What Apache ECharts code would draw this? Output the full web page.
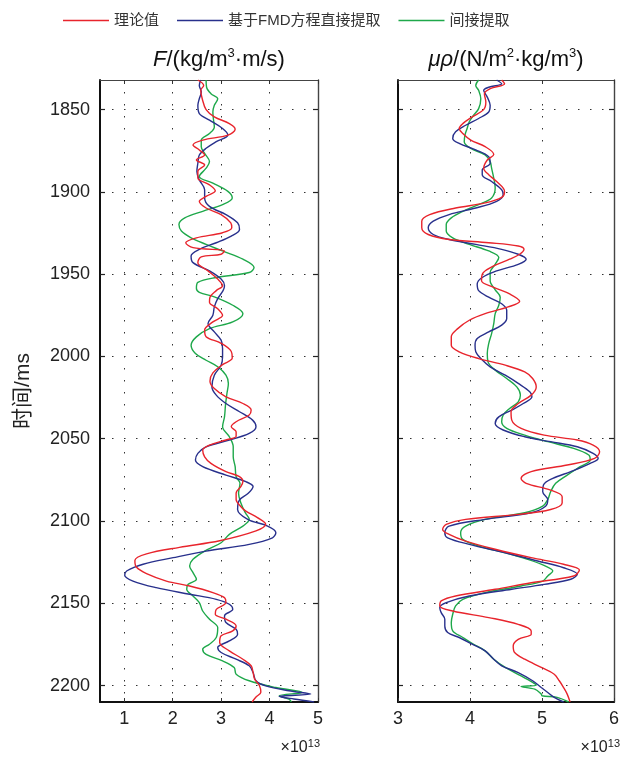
<!DOCTYPE html>
<html><head><meta charset="utf-8">
<script src="https://cdn.jsdelivr.net/npm/echarts@6/dist/echarts.min.js"></script>
<style>html,body{margin:0;padding:0;background:#fff}#c{width:622px;height:757px}</style>
</head><body><div id="c"></div>
<script>
const seriesNames = ['理论值', '基于FMD方程直接提取', '间接提取'];
const seriesColors = ['#e8242c', '#28308c', '#1ea84a'];
const timeTicks = [1850, 1900, 1950, 2000, 2050, 2100, 2150, 2200];
const fTicks = [1, 2, 3, 4, 5];
const muTicks = [3, 4, 5, 6];
const timeRange = [1832, 2210];
const fRange = [0.5, 5];
const muRange = [3, 6];
const leftTitle = '{i|F}/(kg/m{s|3}·m/s)';
const rightTitle = '{i|μρ}/(N/m{s|2}·kg/m{s|3})';
const yName = '时间/ms';
const scaleLabel = '×10{s|13}';

// [value (×10^13), time (ms)]
const F_theory = [[2.52,1832],[2.64,1835.3],[2.58,1838.3],[2.61,1843.4],[2.69,1850],[2.86,1854.4],[3.17,1858.5],[3.29,1861.9],[3.14,1865.5],[2.62,1868.5],[2.42,1871.5],[2.55,1874.5],[2.66,1877.6],[2.49,1880.6],[2.66,1883.6],[2.52,1887.6],[2.52,1891.6],[2.76,1895.7],[2.88,1899.3],[2.69,1902.7],[2.55,1905.7],[2.69,1909.8],[3.0,1913.8],[3.2,1918.8],[3.22,1921.8],[3.03,1924.8],[2.49,1927.9],[2.27,1930.9],[2.42,1933.9],[3.07,1935.9],[3.0,1937.9],[2.59,1939.5],[2.52,1943],[2.73,1948],[2.93,1953],[3.03,1957],[2.9,1960],[2.77,1964],[2.76,1967],[2.93,1971],[3.03,1975],[2.83,1979],[2.66,1984],[2.69,1988],[3.0,1992],[3.21,1997],[3.23,2001],[3.03,2005],[2.83,2010],[2.77,2015],[2.86,2019.5],[3.1,2024.5],[3.45,2028.6],[3.62,2032.6],[3.58,2035.6],[3.31,2039.7],[3.21,2042.7],[3.31,2045.8],[3.31,2048.5],[3.1,2050.8],[2.76,2053.9],[2.62,2056.9],[2.66,2061],[2.79,2065],[3.1,2070],[3.38,2073],[3.45,2076],[3.41,2079],[3.31,2083],[3.31,2087],[3.4,2091],[3.51,2094],[3.75,2098],[3.92,2102],[3.72,2106],[2.97,2112],[2.14,2116],[1.46,2120],[1.22,2124],[1.25,2128],[1.46,2132],[1.87,2136.5],[2.35,2139.5],[2.83,2143.5],[3.07,2146.6],[3.1,2149.6],[2.9,2153.7],[2.88,2156.7],[3.1,2159.7],[3.31,2163.8],[3.24,2166.8],[3.0,2169.8],[2.97,2173.9],[3.17,2178.9],[3.45,2184],[3.62,2188],[3.66,2192],[3.69,2196],[3.79,2200],[3.82,2204],[3.72,2207],[3.64,2210]];
const F_direct = [[2.58,1832],[2.55,1835.3],[2.59,1839.3],[2.55,1843.4],[2.52,1847.4],[2.55,1852.4],[2.76,1856.4],[3.03,1861.5],[3.14,1865.5],[2.9,1869.5],[2.69,1873.5],[2.55,1877.6],[2.52,1882.6],[2.5,1887.6],[2.55,1892.7],[2.66,1898.7],[2.66,1903.7],[2.76,1908.8],[3.1,1913.8],[3.34,1918.8],[3.38,1922.8],[3.21,1926.9],[2.9,1930.9],[2.55,1934.9],[2.38,1938.9],[2.42,1943],[2.76,1948],[3.0,1953],[3.07,1957],[3.04,1960],[2.93,1964.9],[2.86,1969.9],[2.83,1975],[2.73,1980],[2.86,1985.1],[3.0,1990.1],[3.03,1995.2],[3.03,2000.2],[3.0,2005.3],[2.86,2011.4],[2.81,2018.5],[2.9,2023.5],[3.1,2028.6],[3.38,2033.6],[3.65,2038.7],[3.72,2042.7],[3.58,2046.8],[3.17,2050.8],[2.69,2054.9],[2.52,2058.9],[2.47,2063],[2.62,2067],[3.1,2072.1],[3.51,2076.1],[3.66,2079.1],[3.56,2083.2],[3.38,2087.2],[3.34,2093],[3.55,2099],[3.96,2103.1],[4.13,2107.1],[4.06,2110.2],[3.58,2114.2],[2.69,2118.3],[2.01,2122.3],[1.39,2126.3],[1.05,2130.4],[1.01,2133],[1.18,2136.5],[1.66,2140.5],[2.35,2144.5],[2.9,2147.6],[3.17,2150.6],[3.24,2153.7],[3.07,2157.7],[3.1,2161.7],[3.31,2165.8],[3.34,2168.8],[3.17,2172.9],[2.93,2176.9],[3.0,2179.9],[3.31,2184],[3.58,2188],[3.66,2192.1],[3.72,2197.1],[3.92,2200.2],[4.4,2203.2],[4.85,2205.2],[4.2,2206.6],[4.5,2208.2],[4.92,2210]];
const F_indirect = [[2.69,1832],[2.7,1836.4],[2.79,1840.3],[2.93,1843.4],[2.86,1847.4],[2.83,1851.4],[2.84,1855.4],[2.86,1860.5],[2.76,1864.5],[2.59,1868.5],[2.59,1872.5],[2.66,1876.6],[2.76,1881.6],[2.69,1885.6],[2.55,1890.6],[2.83,1894.7],[3.14,1899.7],[3.23,1903.7],[3.03,1907.7],[2.62,1911.8],[2.25,1915.8],[2.13,1919.8],[2.18,1923.8],[2.38,1927.9],[2.69,1931.9],[3.03,1935.9],[3.45,1940.9],[3.68,1946],[3.58,1949],[2.9,1952],[2.52,1955],[2.49,1958.5],[2.55,1961],[2.86,1963.8],[3.24,1968.9],[3.45,1974],[3.24,1979],[2.76,1983.1],[2.49,1988.1],[2.38,1993.2],[2.47,1998.2],[2.69,2002.3],[2.93,2006.3],[3.1,2011.4],[3.15,2016.4],[3.12,2022.5],[3.09,2029.6],[3.07,2036.7],[3.03,2042.7],[3.17,2048.8],[3.25,2054.9],[3.25,2061],[3.29,2067],[3.31,2073.1],[3.39,2077.1],[3.36,2083.2],[3.41,2089.2],[3.5,2095],[3.58,2099],[3.45,2103.1],[3.17,2108.1],[3.0,2113.2],[2.66,2118.3],[2.42,2123.3],[2.35,2127.4],[2.42,2131.4],[2.49,2135.4],[2.32,2138.5],[2.29,2141.5],[2.42,2145.6],[2.55,2149.6],[2.62,2154.7],[2.76,2159.7],[2.93,2164.8],[2.9,2170.8],[2.76,2174.9],[2.62,2177.9],[2.69,2181],[3.03,2185],[3.27,2189.1],[3.31,2193.1],[3.58,2197.1],[4.13,2201.2],[4.68,2204.2],[4.2,2206.2],[4.4,2208.3],[4.45,2210]];

const M_theory = [[4.44,1832],[4.48,1834.3],[4.28,1837.3],[4.2,1840.3],[4.22,1845.4],[4.19,1850],[4.03,1854.4],[3.9,1858.5],[3.85,1861.5],[3.9,1864.5],[4.01,1868.5],[4.21,1872.5],[4.33,1877.2],[4.24,1880.6],[4.19,1885.6],[4.26,1889.6],[4.37,1893.7],[4.48,1899.7],[4.44,1903.3],[4.21,1906.7],[3.8,1909.8],[3.44,1913.8],[3.33,1917.8],[3.33,1921.8],[3.42,1925.9],[3.71,1928.9],[4.26,1930.9],[4.67,1932.9],[4.75,1934.9],[4.69,1937.9],[4.55,1940.9],[4.33,1945],[4.17,1950],[4.16,1954],[4.33,1958],[4.55,1962],[4.69,1966.5],[4.53,1969.9],[4.21,1974],[3.99,1978],[3.83,1983.1],[3.74,1988.1],[3.74,1993.2],[3.85,1997.2],[4.12,2001.3],[4.49,2005.3],[4.76,2009.4],[4.87,2013.4],[4.92,2018.5],[4.85,2023.5],[4.67,2028.6],[4.57,2033.6],[4.58,2038.7],[4.71,2043.7],[5.03,2047.8],[5.49,2050.8],[5.71,2053.9],[5.8,2057.9],[5.73,2061.9],[5.35,2066],[4.85,2070],[4.71,2074.1],[4.78,2077.1],[5.12,2081.2],[5.28,2085.2],[5.28,2089],[5.12,2093],[4.67,2096],[3.94,2099],[3.67,2102.1],[3.62,2105.1],[3.71,2108.1],[3.94,2112.2],[4.35,2117.2],[4.85,2122.3],[5.3,2126.3],[5.52,2129.8],[5.44,2133.4],[4.85,2137.5],[4.35,2141.5],[3.8,2145.6],[3.6,2148.6],[3.58,2151.6],[3.76,2154.7],[4.26,2158.7],[4.67,2162.8],[4.85,2166.8],[4.85,2168.8],[4.67,2171.9],[4.6,2175.9],[4.62,2179.9],[4.76,2184],[4.99,2189],[5.17,2193.1],[5.24,2197.1],[5.3,2201.2],[5.35,2205.2],[5.39,2210]];
const M_direct = [[4.37,1832],[4.44,1834.3],[4.26,1836.4],[4.19,1838.3],[4.24,1842.4],[4.28,1847.4],[4.26,1851.4],[4.12,1855.4],[3.94,1859.5],[3.8,1863.5],[3.76,1867.5],[3.85,1870.5],[4.08,1874.5],[4.26,1878.6],[4.28,1882.6],[4.17,1886.6],[4.17,1889.6],[4.3,1893.7],[4.44,1898.7],[4.46,1901.7],[4.37,1905.7],[4.08,1909.8],[3.71,1913.8],[3.49,1917.8],[3.42,1921.8],[3.49,1925.9],[3.71,1928.9],[4.08,1931.9],[4.44,1934.9],[4.67,1937.9],[4.78,1940.9],[4.67,1944],[4.37,1948],[4.17,1952],[4.1,1956],[4.12,1960],[4.26,1964],[4.44,1968],[4.51,1972],[4.51,1977],[4.44,1981],[4.26,1985.1],[4.1,1989.1],[4.07,1993.2],[4.08,1997.2],[4.15,2001.3],[4.28,2006.3],[4.49,2011.4],[4.67,2016.4],[4.83,2021.5],[4.86,2024.5],[4.74,2028.6],[4.58,2032.6],[4.4,2036.7],[4.35,2040.7],[4.46,2044.7],[4.76,2048.8],[5.12,2051.8],[5.49,2054.9],[5.71,2058.9],[5.78,2062],[5.67,2065],[5.4,2070],[5.15,2074.1],[5.02,2078.1],[5.01,2082.2],[5.08,2087],[5.05,2091],[4.85,2095],[4.21,2099],[3.71,2103.1],[3.65,2107.1],[3.69,2110.2],[3.99,2114.2],[4.49,2119.3],[4.94,2124.3],[5.3,2128.4],[5.49,2132.4],[5.4,2135.4],[5.03,2138.5],[4.58,2141.5],[3.99,2145.6],[3.67,2149.6],[3.58,2152.6],[3.6,2155.7],[3.65,2159.7],[3.65,2163.8],[3.69,2167.8],[3.85,2170.8],[4.03,2174.9],[4.21,2178.9],[4.33,2184],[4.44,2188],[4.67,2192.1],[4.87,2197.1],[4.99,2201.2],[5.08,2204.2],[5.17,2207.2],[5.3,2210]];
const M_indirect = [[4.12,1832],[4.08,1835.3],[4.12,1838.3],[4.15,1843.4],[4.12,1849.4],[4.05,1853.4],[3.99,1857.4],[3.96,1861.5],[3.93,1865.5],[3.92,1869.5],[4.01,1873.5],[4.21,1877.6],[4.28,1881.6],[4.3,1885.6],[4.33,1891.6],[4.35,1897.7],[4.3,1903.7],[4.12,1907.7],[3.9,1911.8],[3.74,1915.8],[3.67,1919.8],[3.67,1923.8],[3.76,1927.9],[3.99,1931.9],[4.26,1935.9],[4.4,1939.9],[4.35,1944],[4.28,1949],[4.28,1954],[4.35,1959.5],[4.42,1964],[4.4,1968.9],[4.35,1974],[4.33,1980],[4.3,1986.1],[4.26,1992.2],[4.24,1998.2],[4.25,2003.3],[4.35,2008.3],[4.51,2013.4],[4.65,2018.5],[4.7,2023.5],[4.67,2027.6],[4.55,2031.6],[4.46,2035.6],[4.44,2039.7],[4.51,2043.7],[4.76,2047.8],[5.08,2051.8],[5.44,2055.9],[5.65,2059.9],[5.67,2063],[5.53,2067],[5.35,2072.1],[5.19,2077.1],[5.12,2082.2],[5.08,2087],[5.01,2091],[4.76,2095],[4.21,2099],[3.94,2103.1],[3.87,2107.1],[3.9,2111.2],[4.12,2115.2],[4.49,2119.3],[4.8,2123.3],[5.05,2127.4],[5.15,2130.4],[5.08,2133.4],[5.01,2136.5],[4.71,2139.5],[4.21,2143.5],[3.9,2147.6],[3.8,2151.6],[3.76,2156.7],[3.74,2161.7],[3.76,2166.8],[3.9,2170.8],[4.05,2174.9],[4.21,2178.9],[4.33,2184],[4.49,2189],[4.71,2194.1],[4.87,2198.1],[4.92,2199.8],[4.71,2200.6],[4.9,2202.2],[4.99,2205.2],[5.0,2206.2],[5.21,2207.2],[5.37,2210]];

const FONT = '"Liberation Sans", Arial, "Noto Sans CJK SC", sans-serif';
const dotted = { type: [1.5, 10.5], color: '#333', width: 1 };
const plain = v => String(v);

function xAx(grid, range, ticks, pos) {
  const main = pos === 'bottom';
  return {
    type: 'value', gridIndex: grid, position: pos, min: range[0], max: range[1],
    axisLine: { show: true, onZero: false, lineStyle: { color: main ? '#111' : '#444', width: main ? 2 : 1.2 } },
    axisTick: { show: true, inside: true, length: 4, customValues: ticks, lineStyle: { color: '#333' } },
    axisLabel: { show: main, customValues: ticks, formatter: plain, fontSize: 18, color: '#222', fontFamily: FONT, margin: 8 },
    splitLine: { show: main, lineStyle: dotted }
  };
}
function yAx(grid, pos, withLabel) {
  const main = pos === 'left';
  return {
    type: 'value', gridIndex: grid, position: pos, inverse: true, min: timeRange[0], max: timeRange[1],
    axisLine: { show: true, onZero: false, lineStyle: { color: main ? '#111' : '#444', width: main ? 2 : 1.4 } },
    axisTick: { show: true, inside: true, length: 5, customValues: timeTicks, lineStyle: { color: '#222', width: 1.2 } },
    axisLabel: { show: withLabel, customValues: timeTicks, formatter: plain, fontSize: 18, color: '#222', fontFamily: FONT, margin: 10 },
    splitLine: { show: main, lineStyle: dotted },
    name: withLabel ? yName : '', nameLocation: 'middle', nameGap: 66, nameRotate: 90,
    nameTextStyle: { fontSize: 21, color: '#222', fontFamily: FONT }
  };
}

const panels = [
  { grid: 0, data: [F_theory, F_direct, F_indirect] },
  { grid: 1, data: [M_theory, M_direct, M_indirect] }
];
const series = [];
panels.forEach(p => {
  p.data.forEach((d, i) => {
    series.push({
      type: 'line', name: seriesNames[i], xAxisIndex: p.grid, yAxisIndex: p.grid,
      data: d, smooth: 0.35, showSymbol: false, symbol: 'none', clip: true,
      lineStyle: { color: seriesColors[i], width: 1.4 }, itemStyle: { color: seriesColors[i] },
      z: 3 - i
    });
  });
});

const titleRich = {
  i: { fontStyle: 'italic', fontSize: 22, fontFamily: FONT, fill: '#111' },
  s: { fontSize: 13, fontFamily: FONT, verticalAlign: 'top', lineHeight: 13, fill: '#111' }
};
const chart = echarts.init(document.getElementById('c'), null, { renderer: 'canvas' });
chart.setOption({
  backgroundColor: '#fff',
  animation: false,
  color: seriesColors,
  legend: {
    top: 8, left: 58, data: seriesNames, icon: 'rect', itemWidth: 46, itemHeight: 1.6, itemGap: 18,
    textStyle: { fontSize: 15, color: '#333', fontFamily: FONT }
  },
  grid: [
    { left: 100, top: 80, width: 218, height: 622, show: false },
    { left: 398, top: 80, width: 219, height: 622, show: false }
  ],
  xAxis: [
    xAx(0, fRange, fTicks, 'bottom'), xAx(1, muRange, muTicks, 'bottom'),
    xAx(0, fRange, fTicks, 'top'), xAx(1, muRange, muTicks, 'top')
  ],
  yAxis: [
    yAx(0, 'left', true), yAx(1, 'left', false),
    yAx(0, 'right', false), yAx(1, 'right', false)
  ],
  graphic: [
    { type: 'text', x: 219, y: 60, style: { text: leftTitle, align: 'center', verticalAlign: 'middle', fontSize: 22, lineHeight: 26, fontFamily: FONT, fill: '#111', rich: titleRich } },
    { type: 'text', x: 506, y: 60, style: { text: rightTitle, align: 'center', verticalAlign: 'middle', fontSize: 22, lineHeight: 26, fontFamily: FONT, fill: '#111', rich: titleRich } },
    { type: 'text', x: 320, y: 748, style: { text: scaleLabel, align: 'right', verticalAlign: 'middle', fontSize: 16, lineHeight: 20, fontFamily: FONT, fill: '#222', rich: { s: { fontSize: 11, verticalAlign: 'top', lineHeight: 11, fontFamily: FONT, fill: '#222' } } } },
    { type: 'text', x: 620, y: 748, style: { text: scaleLabel, align: 'right', verticalAlign: 'middle', fontSize: 16, lineHeight: 20, fontFamily: FONT, fill: '#222', rich: { s: { fontSize: 11, verticalAlign: 'top', lineHeight: 11, fontFamily: FONT, fill: '#222' } } } }
  ],
  series: series
});
</script></body></html>
